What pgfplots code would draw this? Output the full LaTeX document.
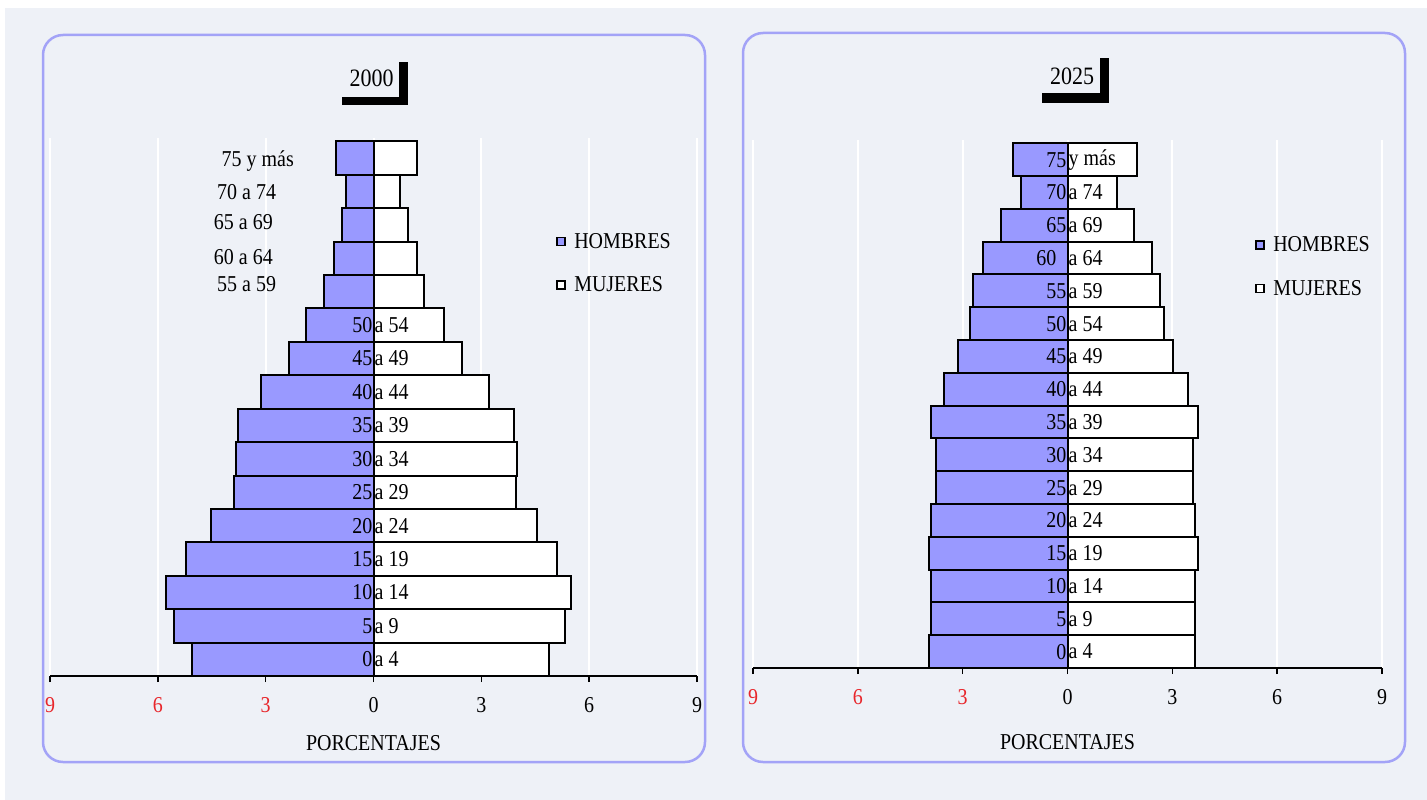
\documentclass[border=0pt]{standalone}
\usepackage{pgfplots}
\pgfplotsset{compat=1.18}
\usepackage{pgfplotstable}
\usepackage{fontspec}
\setmainfont[FakeStretch=0.88]{Liberation Serif}
\definecolor{bgc}{HTML}{EEF1F7}
\definecolor{panel}{HTML}{A3A3F7}
\definecolor{hom}{HTML}{9999FF}
\definecolor{tred}{HTML}{E8262B}

% k: 0 = "0 a 4" ... 15 = "75 y mas"
\pgfplotstableread{
k h m
0 -5.05 4.88
1 -5.55 5.32
2 -5.76 5.50
3 -5.22 5.11
4 -4.52 4.55
5 -3.88 3.97
6 -3.82 3.99
7 -3.76 3.92
8 -3.12 3.21
9 -2.34 2.46
10 -1.87 1.97
11 -1.39 1.41
12 -1.09 1.20
13 -0.88 0.97
14 -0.76 0.74
15 -1.04 1.20
}\tabA
\pgfplotstableread{
k h m
0 -3.97 3.64
1 -3.91 3.64
2 -3.91 3.64
3 -3.97 3.72
4 -3.90 3.65
5 -3.76 3.59
6 -3.76 3.59
7 -3.92 3.74
8 -3.54 3.46
9 -3.14 3.03
10 -2.78 2.76
11 -2.70 2.64
12 -2.41 2.42
13 -1.91 1.90
14 -1.34 1.42
15 -1.57 1.99
}\tabB

\newcommand\fnt{\fontsize{22.7}{26}\selectfont}
\newcommand\lab[3]{\node[anchor=east,inner sep=1pt,font=\fnt] at (axis cs:0,#1) {#2};\node[anchor=west,inner sep=1pt,font=\fnt] at (axis cs:0,#1) {#3};}

\pgfplotsset{pyr/.style={
  scale only axis, xmin=-9, xmax=9, ymin=-0.5, ymax=15.6,
  axis x line*=bottom, axis y line=none,
  xtick={-9,-6,-3,0,3,6,9},
  xticklabels={\textcolor{tred}{9},\textcolor{tred}{6},\textcolor{tred}{3},0,3,6,9},
  xmajorgrids, grid style={white, line width=2pt},
  tick align=outside, major tick length=6pt,
  x axis line style={black, line width=1.8pt, -},
  x tick style={black, line width=1.5pt},
  xticklabel style={font=\fnt, anchor=center, yshift=-23pt},
  xlabel={PORCENTAJES},
  xlabel style={font=\fnt, at={(axis description cs:0.5,0)}, anchor=center},
  xbar, bar width=1, bar shift=0pt,
  legend cell align=left,
  legend style={draw=none, fill=none, font=\fnt, row sep=24pt, inner sep=0pt,
    nodes={inner sep=1.5pt}, /tikz/every odd column/.append style={column sep=7pt}},
}}
\pgfplotsset{hstyle/.style={draw=black, fill=hom, line width=2pt,
  legend image code/.code={\draw[draw=black,fill=hom,line width=1.6pt] (0pt,-4pt) rectangle (8pt,4pt);}}}
\pgfplotsset{mstyle/.style={draw=black, fill=white, line width=2pt,
  legend image code/.code={\draw[draw=black,fill=white,line width=1.6pt] (0pt,-4pt) rectangle (8pt,4pt);}}}

\begin{document}
\begin{tikzpicture}[x=1pt,y=-1pt]
\fill[white] (0,0) rectangle (1427,800);
\fill[bgc] (5,8) rectangle (1427,800);
\useasboundingbox (0,0) rectangle (1427,800);
\draw[panel, line width=2.5pt, rounded corners=20pt] (43,35) rectangle (705,762);
\draw[panel, line width=2.5pt, rounded corners=20pt] (743,33) rectangle (1405,762);

% titles
\fill[black] (399.3,61.7) rectangle (407.7,105);
\fill[black] (341.7,96.7) rectangle (407.7,105);
\node[font=\fontsize{25}{28}\selectfont] at (371.5,78.5) {2000};
\fill[black] (1100,58) rectangle (1109,103);
\fill[black] (1042,93) rectangle (1109,103);
\node[font=\fontsize{25}{28}\selectfont] at (1072,76.5) {2025};

\begin{axis}[pyr, at={(50pt,-676pt)}, anchor=south west, width=647pt, height=538pt,
  xlabel style={yshift=-67pt},
  legend style={at={(axis description cs:0.782,0.767)}, anchor=west}]
\addplot[hstyle] table[x=h,y=k] {\tabA};
\addplot[mstyle] table[x=m,y=k] {\tabA};
\legend{HOMBRES,MUJERES}
\lab{0}{0}{a 4}
\lab{1}{5}{a 9}
\lab{2}{10}{a 14}
\lab{3}{15}{a 19}
\lab{4}{20}{a 24}
\lab{5}{25}{a 29}
\lab{6}{30}{a 34}
\lab{7}{35}{a 39}
\lab{8}{40}{a 44}
\lab{9}{45}{a 49}
\lab{10}{50}{a 54}
\node[font=\fnt] at (axis cs:-3.53,11.24) {55 a 59};
\node[font=\fnt] at (axis cs:-3.62,12.04) {60 a 64};
\node[font=\fnt] at (axis cs:-3.62,13.08) {65 a 69};
\node[font=\fnt] at (axis cs:-3.53,13.98) {70 a 74};
\node[font=\fnt] at (axis cs:-3.22,14.91) {75 y más};
\end{axis}

\begin{axis}[pyr, at={(753pt,-668pt)}, anchor=south west, width=629pt, height=528pt,
  xlabel style={yshift=-74pt},
  legend style={at={(axis description cs:0.798,0.760)}, anchor=west}]
\addplot[hstyle] table[x=h,y=k] {\tabB};
\addplot[mstyle] table[x=m,y=k] {\tabB};
\legend{HOMBRES,MUJERES}
\lab{0}{0}{a 4}
\lab{1}{5}{a 9}
\lab{2}{10}{a 14}
\lab{3}{15}{a 19}
\lab{4}{20}{a 24}
\lab{5}{25}{a 29}
\lab{6}{30}{a 34}
\lab{7}{35}{a 39}
\lab{8}{40}{a 44}
\lab{9}{45}{a 49}
\lab{10}{50}{a 54}
\lab{11}{55}{a 59}
\node[anchor=east,inner sep=1pt,font=\fnt,xshift=-10pt] at (axis cs:0,12) {60};
\node[anchor=west,inner sep=1pt,font=\fnt] at (axis cs:0,12) {a 64};
\lab{13}{65}{a 69}
\lab{14}{70}{a 74}
\lab{15}{75}{y más}
\end{axis}
\end{tikzpicture}
\end{document}
